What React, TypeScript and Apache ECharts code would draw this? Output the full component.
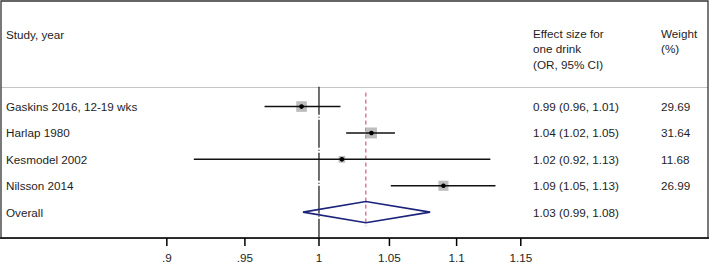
import React, { useEffect, useRef } from 'react';
import * as echarts from 'echarts';

const studies = ['Gaskins 2016, 12-19 wks', 'Harlap 1980', 'Kesmodel 2002', 'Nilsson 2014'];
const estimates = [0.988, 1.037, 1.016, 1.09];
const lowers = [0.963, 1.019, 0.917, 1.051];
const uppers = [1.015, 1.054, 1.126, 1.13];
const weights = [29.69, 31.64, 11.68, 26.99];
const effectLabels = ['0.99 (0.96, 1.01)', '1.04 (1.02, 1.05)', '1.02 (0.92, 1.13)', '1.09 (1.05, 1.13)'];
const weightLabels = ['29.69', '31.64', '11.68', '26.99'];
const overallName = 'Overall';
const overallEstimate = 1.033;
const overallLower = 0.989;
const overallUpper = 1.08;
const overallEffectLabel = '1.03 (0.99, 1.08)';
const tickValues = [0.9, 0.95, 1, 1.05, 1.1, 1.15];
const tickLabels = ['.9', '.95', '1', '1.05', '1.1', '1.15'];

const FONT = 'Liberation Sans, Arial, Helvetica, sans-serif';
const TEXT_COLOR = '#1e1e1e';
const FS = 11.7;

export default function App() {
  const ref = useRef<HTMLDivElement>(null);
  useEffect(() => {
    if (!ref.current) return;
    const chart = echarts.init(ref.current, null, { renderer: 'svg' });
    const ln = Math.log;
    const X_MIN = -0.2202;
    const X_MAX = 0.2694;
    const Y_MIN = -4;
    const Y_LINE = 4.981;
    const Y_MAX = 5.283;
    const HEADER_ROW = -0.755;

    const studyData = studies.map((_, i) => [i, ln(estimates[i]), ln(lowers[i]), ln(uppers[i]), weights[i]]);
    const textRows = [
      ...studies.map((s, i) => ({ value: [i], name: s, eff: effectLabels[i], w: weightLabels[i] })),
      { value: [studies.length], name: overallName, eff: overallEffectLabel, w: '' },
    ];
    const overallRow = studies.length;
    const headText = (text: string, x: number, y: number) => ({
      type: 'text', x, y, style: { text, fontSize: FS, fontFamily: FONT, fill: TEXT_COLOR, verticalAlign: 'middle' },
    });

    const option: any = {
      animation: false,
      grid: { left: 1, right: 1, top: 1, bottom: 16, show: false },
      xAxis: {
        type: 'value',
        min: X_MIN,
        max: X_MAX,
        splitLine: { show: false },
        axisLine: { show: false, onZero: false },
        axisTick: { show: false },
        axisLabel: {
          customValues: tickValues.map(ln),
          formatter: (v: number) => {
            const i = tickValues.findIndex((t) => Math.abs(ln(t) - v) < 1e-6);
            return i >= 0 ? tickLabels[i] : '';
          },
          fontSize: FS,
          fontFamily: FONT,
          color: TEXT_COLOR,
          margin: 5,
        },
      },
      yAxis: { type: 'value', inverse: true, min: Y_MIN, max: Y_MAX, show: false },
      graphic: [
        { type: 'line', shape: { x1: 1, y1: 87.5, x2: 708, y2: 87.5 }, style: { stroke: '#c4c4c4', lineWidth: 1 }, z: 1 },
        headText('Study, year', 6, 34),
        headText('Effect size for', 533, 33),
        headText('one drink', 533, 48.5),
        headText('(OR, 95% CI)', 533, 64),
        headText('Weight', 661, 33),
        headText('(%)', 661, 48.5),
      ],
      series: [
        {
          type: 'custom',
          name: 'frame',
          data: [[0, 0]],
          clip: false,
          z: 6,
          renderItem: (_p: any, api: any) => {
            const tl = api.coord([X_MIN, Y_MIN]);
            const br = api.coord([X_MAX, Y_LINE]);
            const ticks = tickValues.map((t) => {
              const a = api.coord([ln(t), Y_LINE]);
              const b = api.coord([ln(t), Y_MAX]);
              return { type: 'line', shape: { x1: a[0], y1: a[1], x2: b[0], y2: b[1] }, style: { stroke: '#000', lineWidth: 1.5 } };
            });
            return {
              type: 'group',
              children: [
                { type: 'rect', shape: { x: tl[0], y: tl[1], width: br[0] - tl[0], height: br[1] - tl[1] }, style: { fill: 'none', stroke: '#333', lineWidth: 1.3 } },
                { type: 'line', shape: { x1: tl[0] - 1, y1: br[1], x2: br[0] + 1, y2: br[1] }, style: { stroke: '#111', lineWidth: 1.6 } },
                ...ticks,
              ],
            };
          },
        },
        {
          type: 'custom',
          name: 'reference',
          data: [[0, 0]],
          z: 2,
          renderItem: (_p: any, api: any) => {
            const a = api.coord([0, HEADER_ROW]);
            const b = api.coord([0, Y_LINE]);
            const c = api.coord([ln(overallEstimate), -0.53]);
            const d = api.coord([ln(overallEstimate), 4.53]);
            return {
              type: 'group',
              children: [
                { type: 'line', shape: { x1: a[0], y1: a[1], x2: b[0], y2: b[1] }, style: { stroke: '#222', lineWidth: 1.3, lineDash: [28, 2, 1, 2] } },
                { type: 'line', shape: { x1: c[0], y1: c[1], x2: d[0], y2: d[1] }, style: { stroke: '#c83a5c', lineWidth: 1, lineDash: [4, 3] } },
              ],
            };
          },
        },
        {
          type: 'custom',
          name: 'studies',
          data: studyData,
          z: 3,
          renderItem: (_p: any, api: any) => {
            const row = api.value(0);
            const pe = api.coord([api.value(1), row]);
            const lo = api.coord([api.value(2), row]);
            const hi = api.coord([api.value(3), row]);
            const size = 1.95 * Math.sqrt(api.value(4));
            return {
              type: 'group',
              children: [
                { type: 'rect', shape: { x: pe[0] - size / 2, y: pe[1] - size / 2, width: size, height: size }, style: { fill: '#bdbdbd' } },
                { type: 'line', shape: { x1: lo[0], y1: lo[1], x2: hi[0], y2: hi[1] }, style: { stroke: '#111', lineWidth: 1.5 } },
                { type: 'circle', shape: { cx: pe[0], cy: pe[1], r: 2.3 }, style: { fill: '#000' } },
              ],
            };
          },
        },
        {
          type: 'custom',
          name: 'overall',
          data: [[overallRow, ln(overallEstimate), ln(overallLower), ln(overallUpper)]],
          z: 3,
          renderItem: (_p: any, api: any) => {
            const row = api.value(0);
            const top = api.coord([api.value(1), row - 0.4]);
            const bot = api.coord([api.value(1), row + 0.4]);
            const lo = api.coord([api.value(2), row]);
            const hi = api.coord([api.value(3), row]);
            return {
              type: 'polygon',
              shape: { points: [[lo[0], lo[1]], [top[0], top[1]], [hi[0], hi[1]], [bot[0], bot[1]]] },
              style: { fill: 'none', stroke: '#1c237a', lineWidth: 1.6 },
            };
          },
        },
        {
          type: 'custom',
          name: 'table',
          data: textRows,
          z: 4,
          renderItem: (p: any, api: any) => {
            const r = textRows[p.dataIndex];
            const y = api.coord([0, api.value(0)])[1];
            const base = { fontSize: FS, fontFamily: FONT, fill: TEXT_COLOR, verticalAlign: 'middle' };
            return {
              type: 'group',
              children: [
                { type: 'text', x: 6, y, style: { ...base, text: r.name } },
                { type: 'text', x: 533, y, style: { ...base, text: r.eff } },
                { type: 'text', x: 661, y, style: { ...base, text: r.w } },
              ],
            };
          },
        },
      ],
    };
    chart.setOption(option);
    return () => chart.dispose();
  }, []);
  return <div ref={ref} style={{ position: 'absolute', left: 0, top: 0, width: 709, height: 263, background: '#fff' }} />;
}
